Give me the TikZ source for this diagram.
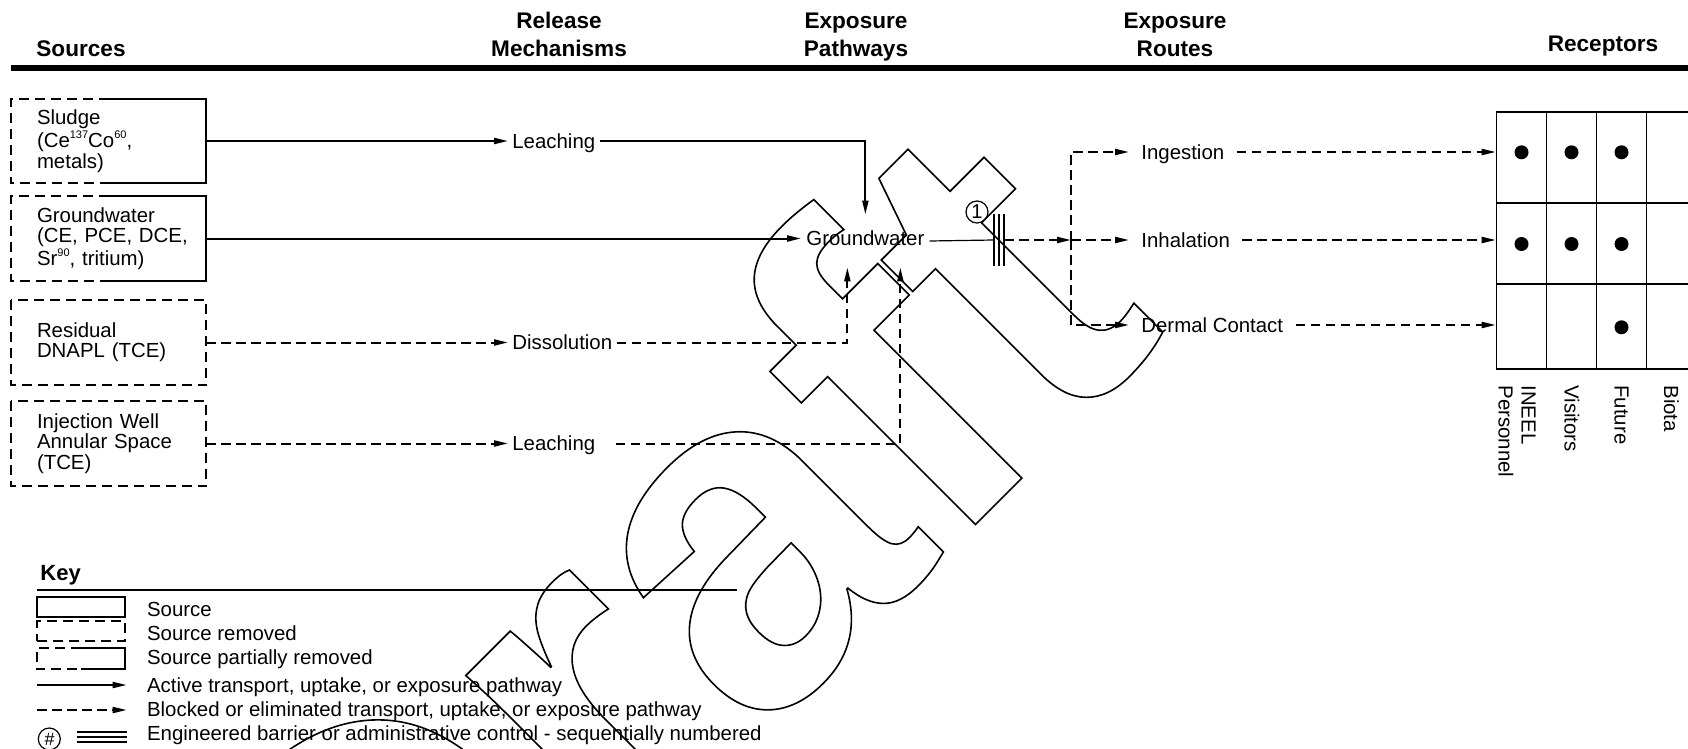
\documentclass[tikz,border=0pt]{standalone}
\usepackage{fontspec}
\usepackage{graphicx}
\setmainfont{Liberation Sans}
\usetikzlibrary{arrows.meta}
% stroke-only glyphs through the text render mode of xdvipdfmx
\newcommand\hollowtext[1]{\special{pdf:literal direct 1 Tr 0.8 w}#1\special{pdf:literal direct 0 Tr}}
\newcommand\supnum[1]{\raisebox{0.85ex}{\fontsize{5.5}{5.5}\selectfont #1}}
\begin{document}
\begin{tikzpicture}[x=0.5pt,y=-0.5pt,
  body/.style={font=\fontsize{10.2}{10.2}\selectfont},
  txt/.style={body, inner sep=0pt, text height=7.3pt, text depth=0pt},
  hdr/.style={font=\fontsize{11.3}{11.3}\selectfont\bfseries, inner sep=0pt, anchor=base},
  srcbox/.style={body, align=left, text width=71.5pt, inner xsep=13pt, inner ysep=0pt, minimum height=42pt},
  rel/.style={txt, anchor=west, inner xsep=2pt},
  route/.style={txt, anchor=west, inner xsep=6pt},
  keylbl/.style={txt, anchor=west},
  rlab/.style={txt, rotate=-90, anchor=west},
  rlabtwo/.style={font=\fontsize{10.2}{11.5}\selectfont, inner sep=0pt, rotate=-90, anchor=west, align=left},
  edge/.style={line width=1pt},
  dashedge/.style={line width=1pt, dash pattern=on 5pt off 3pt},
  link/.style={line width=1pt, -{Triangle[length=7pt,width=3pt]}},
  dlink/.style={link, dash pattern=on 4.75pt off 2.75pt},
  cell/.style={draw, line width=0.8pt, minimum width=25pt, inner sep=0pt},
  dot/.style={circle, fill, inner sep=0pt, minimum size=7pt},
  ringed/.style={circle, draw, line width=0.6pt, minimum size=11pt, inner sep=0pt},
]
\useasboundingbox (0,0) rectangle (1688,749);
\fill[white] (0,0) rectangle (1688,749);

% hollow watermark lettering behind everything
\node[rotate=45, anchor=base east, inner sep=0pt,
      font=\fontsize{240}{240}\selectfont\bfseries] (draftmark) at (1170,330)
      {\hollowtext{Draft}};

% column headings
\node[hdr] (hsrc) at (81,57) {Sources};
\node[hdr] (hrel1) at (559,29) {Release};
\node[hdr] (hrel2) at (559,57) {Mechanisms};
\node[hdr] (hpath1) at (856,29) {Exposure};
\node[hdr] (hpath2) at (856,57) {Pathways};
\node[hdr] (hrte1) at (1175,29) {Exposure};
\node[hdr] (hrte2) at (1175,57) {Routes};
\node[hdr] (hrec) at (1603,52) {Receptors};
\draw[line width=3pt] (11,68) -- (1700,68);

% sources
\node[srcbox] (sludge) at (108.5,141) {Sludge\\(Ce\supnum{137}Co\supnum{60},\\metals)};
\node[srcbox] (gwsrc) at (108.5,238.5) {Groundwater\\\mbox{(CE, PCE, DCE,}\\Sr\supnum{90}, tritium)};
\node[srcbox] (resid) at (108.5,342.5) {Residual\\DNAPL (TCE)};
\node[srcbox] (injw) at (108.5,443.5) {Injection Well\\Annular Space\\(TCE)};

\draw[dashedge] (sludge.north) -- (sludge.north west) -- (sludge.south west) -- (sludge.south);
\draw[edge] (sludge.south) -- (sludge.south east) -- (sludge.north east) -- (sludge.north);
\draw[dashedge] (gwsrc.north) -- (gwsrc.north west) -- (gwsrc.south west) -- (gwsrc.south);
\draw[edge] (gwsrc.south) -- (gwsrc.south east) -- (gwsrc.north east) -- (gwsrc.north);
\draw[dashedge] (resid.north west) rectangle (resid.south east);
\draw[dashedge] (injw.north west) rectangle (injw.south east);

% release mechanisms
\node[rel] (leach1) at (508,141) {Leaching};
\node[rel] (diss) at (508,342.5) {Dissolution};
\node[rel] (leach2) at (508,443.5) {Leaching};

% exposure pathway
\node[body, anchor=base west, inner xsep=2.5pt, inner ysep=0pt,
      text height=15.35pt, text depth=10.65pt] (gw) at (801,245.7) {Groundwater};
\node[minimum width=4.85pt, minimum height=25.5pt, inner sep=0pt] (barrier) at (999,240) {};
\draw[line width=0.9pt] (barrier.north west) -- (barrier.south west)
  (barrier.north) -- (barrier.south) (barrier.north east) -- (barrier.south east);
\node[ringed, font=\fontsize{10}{10}\selectfont] (ctl1) at (977,212) {1};
\coordinate (split) at (1071,240);

% exposure routes
\node[route] (ingest) at (1129,152) {Ingestion};
\node[route] (inhal) at (1129,240) {Inhalation};
\node[route] (dermal) at (1129,325) {Dermal Contact};

% receptor grid
\foreach \r/\y/\h in {1/157.5/45.5pt, 2/243.5/40.5pt, 3/326.5/42.5pt} {
  \foreach \c/\x in {1/1521.5, 2/1571.5, 3/1621.5, 4/1671.5} {
    \node[cell, minimum height=\h] (c\r\c) at (\x,\y) {};
  }
}
\foreach \c/\x in {1/1521.5, 2/1571.5, 3/1621.5} {
  \node[dot] (dA\c) at (\x,152.3) {};
  \node[dot] (dB\c) at (\x,244) {};
}
\node[dot] (dC3) at (1621.5,327.3) {};

\node[rlabtwo] (rinl) at (1517,385) {INEEL\\Personnel};
\node[rlab] (rvis) at (1572,385) {Visitors};
\node[rlab] (rfut) at (1622,385) {Future};
\node[rlab] (rbio) at (1671.5,385) {Biota};

% connectors
\draw[link] (sludge.east) -- (leach1.west);
\draw[link] (leach1.east) -| (gw.north);
\draw[link] (gwsrc.east) -- (gwsrc.east -| gw.west);
\draw[dlink] (resid.east) -- (diss.west);
\draw[dlink] (injw.east) -- (leach2.west);
\draw[dlink] (diss.east) -| ([xshift=-9pt]gw.south);
\draw[dlink, shorten <=8pt] (leach2.east) -| ([xshift=17.5pt]gw.south);
\draw[line width=0.6pt] (gw.east) -- (barrier.west);
\draw[dlink] (barrier.east) -- (split);
\draw[dlink] (split) -- (inhal.west);
\draw[dlink] (split) |- (ingest.west);
\draw[dlink] (split) |- (dermal.west);
\draw[dlink] (ingest.east) -- (ingest.east -| c11.west);
\draw[dlink] (inhal.east) -- (inhal.east -| c21.west);
\draw[dlink] (dermal.east) -- (dermal.east -| c31.west);

% key
\node[font=\fontsize{11}{11}\selectfont\bfseries, anchor=base west, inner sep=0pt] (keyhead) at (40,580) {Key};
\coordinate (keyL) at (37.3,590);
\coordinate (keyR) at (737,590);
\draw[line width=0.75pt] (keyL) -- (keyR);

\node[draw, edge, minimum width=43.85pt, minimum height=10pt, inner sep=0pt] (ksrc) at (81.15,606.7) {};
\node[draw, dashedge, minimum width=43.85pt, minimum height=10pt, inner sep=0pt] (krem) at (81.15,631) {};
\node[minimum width=43.85pt, minimum height=10.35pt, inner sep=0pt] (kpart) at (81.15,658.7) {};
\draw[dashedge] (kpart.north) -- (kpart.north west) -- (kpart.south west) -- (kpart.south);
\draw[edge] (kpart.south) -- (kpart.south east) -- (kpart.north east) -- (kpart.north);

\coordinate (kaS) at (37.3,685);
\coordinate (kaE) at (126.7,685);
\draw[link] (kaS) -- (kaE);
\coordinate (kbS) at (37.3,710);
\coordinate (kbE) at (126.7,710);
\draw[dlink] (kbS) -- (kbE);

\node[ringed, font=\fontsize{9}{9}\selectfont\itshape] (khash) at (49.3,739) {\#};
\coordinate (kcS) at (76.7,737);
\coordinate (kcE) at (127.3,737);
\draw[line width=1pt] ([yshift=2.5pt]kcS) -- ([yshift=2.5pt]kcE)
  (kcS) -- (kcE) ([yshift=-2.5pt]kcS) -- ([yshift=-2.5pt]kcE);

\node[keylbl] (kl1) at (146.7,609.3) {Source};
\node[keylbl] (kl2) at (146.7,632.7) {Source removed};
\node[keylbl] (kl3) at (146.7,656.7) {Source partially removed};
\node[keylbl] (kl4) at (146.7,685) {Active transport, uptake, or exposure pathway};
\node[keylbl] (kl5) at (146.7,709.3) {Blocked or eliminated transport, uptake, or exposure pathway};
\node[keylbl] (kl6) at (146.7,733.3) {Engineered barrier or administrative control - sequentially numbered};
\end{tikzpicture}
\end{document}
